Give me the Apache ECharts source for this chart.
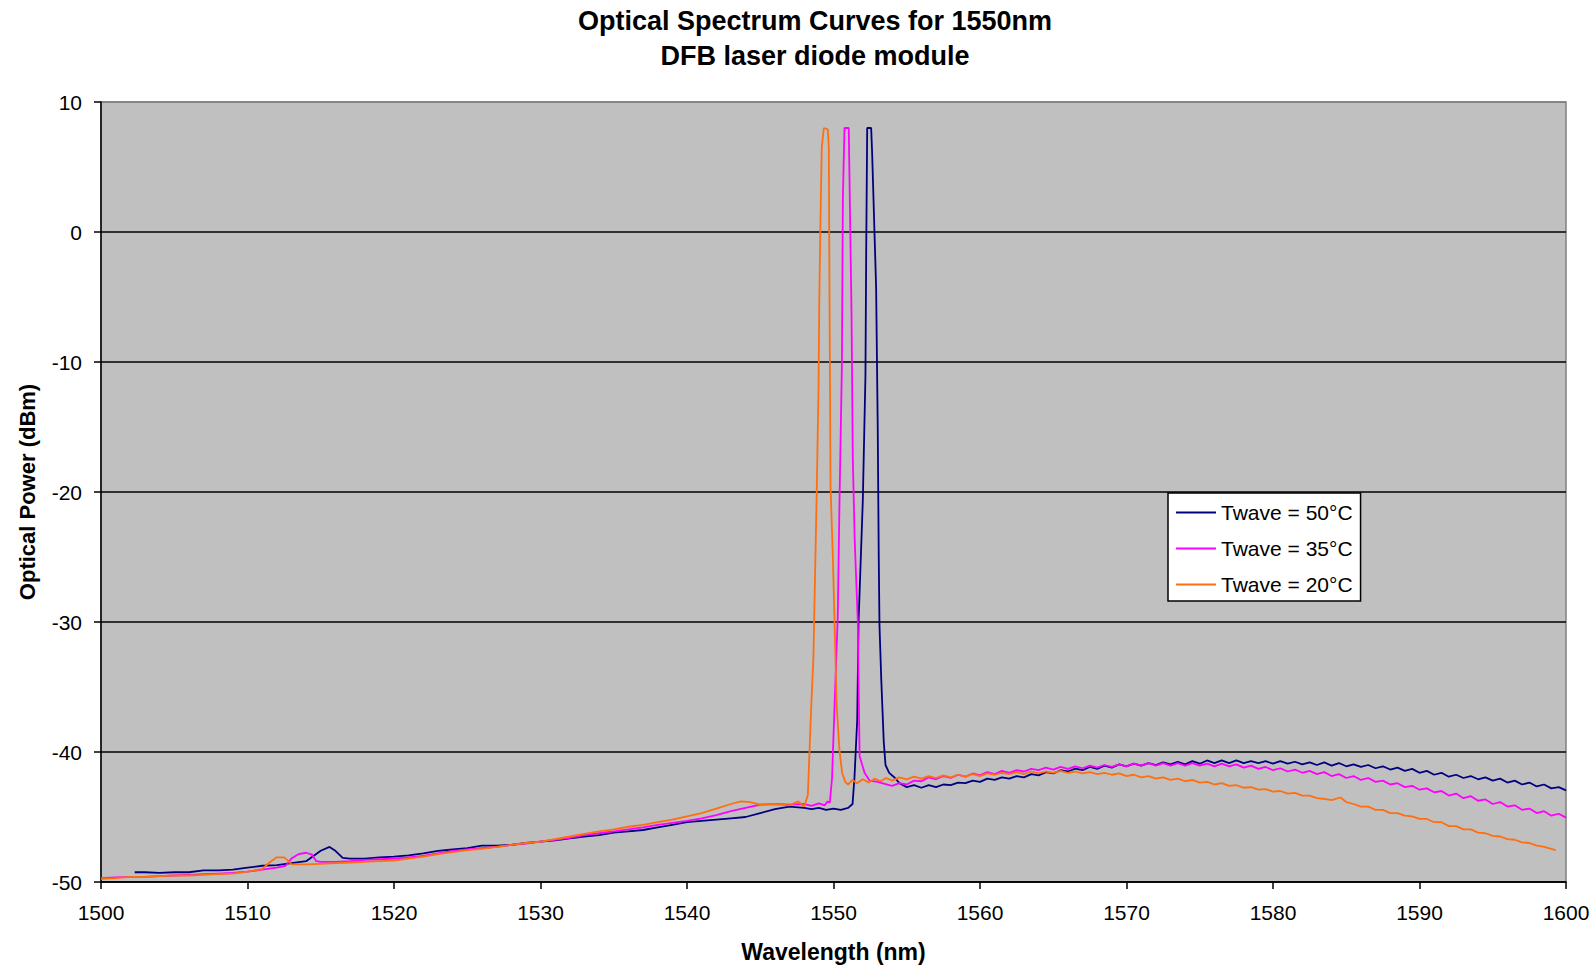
<!DOCTYPE html>
<html>
<head>
<meta charset="utf-8">
<script src="https://cdn.jsdelivr.net/npm/echarts@6/dist/echarts.min.js"></script>
<style>
html,body{margin:0;padding:0;background:#fff;}
#chart{width:1593px;height:968px;}
</style>
</head>
<body>
<div id="chart"></div>
<script>
const titleLines = ['Optical Spectrum Curves for 1550nm', 'DFB laser diode module'];
const xAxisName = 'Wavelength (nm)';
const yAxisName = 'Optical Power (dBm)';
const seriesNames = ['Twave = 50\u00B0C', 'Twave = 35\u00B0C', 'Twave = 20\u00B0C'];
const seriesColors = ['#000080', '#ff00ff', '#ff6f0f'];

// Twave = 50°C  [wavelength nm, power dBm]
const curve50 = [[1502.3,-49.25],[1503,-49.25],[1504,-49.3],[1505,-49.25],[1506,-49.25],[1507,-49.1],[1508,-49.1],[1509,-49.05],[1510,-48.9],[1511,-48.75],[1512,-48.7],[1513,-48.55],[1514,-48.4],[1514.5,-48.0],[1515,-47.6],[1515.6,-47.3],[1516,-47.6],[1516.5,-48.15],[1517,-48.2],[1518,-48.2],[1519,-48.1],[1520,-48.05],[1521,-47.95],[1522,-47.8],[1523,-47.6],[1524,-47.5],[1525,-47.4],[1526,-47.2],[1527,-47.2],[1528,-47.15],[1529,-47.0],[1530,-46.9],[1531,-46.8],[1532,-46.65],[1533,-46.5],[1534,-46.4],[1535,-46.2],[1536,-46.1],[1537,-46.0],[1538,-45.8],[1539,-45.6],[1540,-45.4],[1541,-45.3],[1542,-45.2],[1543,-45.1],[1544,-45.0],[1545,-44.7],[1546,-44.4],[1547,-44.2],[1548,-44.3],[1548.5,-44.4],[1549,-44.3],[1549.5,-44.45],[1550,-44.35],[1550.5,-44.45],[1551,-44.3],[1551.3,-44.0],[1551.43,-42.0],[1551.62,-37.5],[1551.71,-30.0],[1552.0,-20.7],[1552.18,-11.1],[1552.23,-1.9],[1552.3,8.0],[1552.57,8.0],[1552.64,6.0],[1552.91,-4.3],[1553.02,-15.1],[1553.09,-25.2],[1553.14,-30.3],[1553.26,-34.4],[1553.43,-39.2],[1553.55,-41.0],[1553.8,-41.6],[1554.2,-42.0],[1554.5,-42.4],[1555,-42.7],[1555.5,-42.55],[1556,-42.75],[1556.5,-42.55],[1557,-42.7],[1557.5,-42.5],[1558,-42.55],[1558.5,-42.35],[1559,-42.4],[1559.5,-42.2],[1560,-42.3],[1560.5,-42.05],[1561,-42.15],[1561.5,-41.95],[1562,-42.05],[1562.5,-41.85],[1563,-41.95],[1563.5,-41.7],[1564,-41.8],[1564.5,-41.55],[1565,-41.65],[1565.5,-41.4],[1566,-41.5],[1566.5,-41.28],[1567,-41.4],[1567.5,-41.15],[1568,-41.3],[1568.5,-41.05],[1569,-41.2],[1569.5,-40.95],[1570,-41.1],[1570.5,-40.9],[1571,-41.05],[1571.5,-40.85],[1572,-41.0],[1572.5,-40.8],[1573,-40.95],[1573.5,-40.75],[1574,-40.95],[1574.5,-40.7],[1575,-40.9],[1575.5,-40.65],[1576,-40.85],[1576.5,-40.65],[1577,-40.85],[1577.5,-40.65],[1578,-40.85],[1578.5,-40.7],[1579,-40.85],[1579.5,-40.7],[1580,-40.9],[1580.5,-40.7],[1581,-40.9],[1581.5,-40.75],[1582,-40.95],[1582.5,-40.8],[1583,-41.0],[1583.5,-40.8],[1584,-41.05],[1584.5,-40.85],[1585,-41.1],[1585.5,-40.95],[1586,-41.15],[1586.5,-41.0],[1587,-41.25],[1587.5,-41.1],[1588,-41.35],[1588.5,-41.2],[1589,-41.45],[1589.5,-41.3],[1590,-41.6],[1590.5,-41.45],[1591,-41.75],[1591.5,-41.6],[1592,-41.9],[1592.5,-41.75],[1593,-42.0],[1593.5,-41.85],[1594,-42.1],[1594.5,-41.95],[1595,-42.2],[1595.5,-42.05],[1596,-42.35],[1596.5,-42.2],[1597,-42.5],[1597.5,-42.35],[1598,-42.65],[1598.5,-42.5],[1599,-42.8],[1599.5,-42.7],[1600,-42.95]];

// Twave = 35°C
const curve35 = [[1500,-49.7],[1501,-49.65],[1502,-49.6],[1503,-49.6],[1504,-49.55],[1505,-49.5],[1506,-49.45],[1507,-49.4],[1508,-49.35],[1509,-49.3],[1510,-49.2],[1511,-49.05],[1512,-48.9],[1512.6,-48.75],[1513,-48.2],[1513.5,-47.85],[1514,-47.75],[1514.4,-47.9],[1514.7,-48.4],[1515,-48.45],[1516,-48.45],[1517,-48.4],[1518,-48.3],[1519,-48.25],[1520,-48.2],[1521,-48.1],[1522,-48.0],[1523,-47.8],[1524,-47.6],[1525,-47.5],[1526,-47.4],[1527,-47.3],[1528,-47.15],[1529,-47.05],[1530,-46.9],[1531,-46.75],[1532,-46.6],[1533,-46.4],[1534,-46.25],[1535,-46.1],[1536,-45.95],[1537,-45.8],[1538,-45.6],[1539,-45.45],[1540,-45.3],[1541,-45.1],[1542,-44.85],[1543,-44.55],[1544,-44.3],[1545,-44.05],[1546,-44.0],[1547,-44.05],[1548,-44.0],[1548.5,-44.15],[1549,-43.95],[1549.4,-44.1],[1549.6,-43.8],[1549.75,-43.9],[1549.9,-42.0],[1550.07,-36.5],[1550.29,-29.6],[1550.41,-20.7],[1550.57,-10.45],[1550.64,2.6],[1550.75,8.0],[1551.04,8.0],[1551.09,4.3],[1551.23,-6.3],[1551.32,-17.6],[1551.45,-23.8],[1551.66,-30.0],[1551.78,-40.3],[1552.12,-41.6],[1552.46,-42.2],[1553,-42.3],[1553.5,-42.45],[1554,-42.6],[1554.5,-42.4],[1555,-42.5],[1555.5,-42.2],[1556,-42.25],[1556.5,-41.95],[1557,-42.1],[1557.5,-41.85],[1558,-42.0],[1558.5,-41.75],[1559,-41.9],[1559.5,-41.65],[1560,-41.8],[1560.5,-41.55],[1561,-41.7],[1561.5,-41.45],[1562,-41.6],[1562.5,-41.4],[1563,-41.5],[1563.5,-41.3],[1564,-41.4],[1564.5,-41.2],[1565,-41.35],[1565.5,-41.15],[1566,-41.3],[1566.5,-41.1],[1567,-41.25],[1567.5,-41.05],[1568,-41.2],[1568.5,-41.0],[1569,-41.15],[1569.5,-40.95],[1570,-41.1],[1570.5,-40.9],[1571,-41.05],[1571.5,-40.85],[1572,-41.05],[1572.5,-40.85],[1573,-41.05],[1573.5,-40.85],[1574,-41.05],[1574.5,-40.85],[1575,-41.05],[1575.5,-40.9],[1576,-41.1],[1576.5,-40.9],[1577,-41.1],[1577.5,-40.95],[1578,-41.2],[1578.5,-41.05],[1579,-41.3],[1579.5,-41.15],[1580,-41.4],[1580.5,-41.25],[1581,-41.5],[1581.5,-41.35],[1582,-41.6],[1582.5,-41.45],[1583,-41.7],[1583.5,-41.55],[1584,-41.85],[1584.5,-41.7],[1585,-42.0],[1585.5,-41.85],[1586,-42.15],[1586.5,-42.0],[1587,-42.3],[1587.5,-42.2],[1588,-42.5],[1588.5,-42.4],[1589,-42.7],[1589.5,-42.6],[1590,-42.9],[1590.5,-42.8],[1591,-43.1],[1591.5,-43.0],[1592,-43.35],[1592.5,-43.2],[1593,-43.55],[1593.5,-43.4],[1594,-43.75],[1594.5,-43.65],[1595,-44.0],[1595.5,-43.85],[1596,-44.2],[1596.5,-44.1],[1597,-44.45],[1597.5,-44.35],[1598,-44.7],[1598.5,-44.55],[1599,-44.9],[1599.5,-44.75],[1600,-45.05]];

// Twave = 20°C
const curve20 = [[1500,-49.75],[1501,-49.7],[1502,-49.6],[1503,-49.6],[1504,-49.55],[1505,-49.5],[1506,-49.5],[1507,-49.45],[1508,-49.4],[1509,-49.35],[1510,-49.2],[1511,-49.0],[1511.5,-48.5],[1512,-48.1],[1512.5,-48.1],[1512.8,-48.4],[1513,-48.65],[1514,-48.65],[1515,-48.6],[1516,-48.55],[1517,-48.5],[1518,-48.45],[1519,-48.4],[1520,-48.35],[1521,-48.2],[1522,-48.05],[1523,-47.85],[1524,-47.7],[1525,-47.55],[1526,-47.45],[1527,-47.3],[1528,-47.15],[1529,-47.0],[1530,-46.9],[1531,-46.7],[1532,-46.5],[1533,-46.3],[1534,-46.1],[1535,-45.95],[1536,-45.75],[1537,-45.6],[1538,-45.4],[1539,-45.2],[1540,-44.95],[1541,-44.7],[1542,-44.35],[1543,-44.0],[1543.7,-43.8],[1544.3,-43.85],[1545,-44.05],[1546,-44.0],[1547,-44.1],[1547.6,-43.8],[1548,-44.2],[1548.25,-43.3],[1548.48,-36.5],[1548.63,-32.7],[1548.86,-19.7],[1548.98,-11.8],[1549.03,-5.3],[1549.11,0.85],[1549.2,6.5],[1549.34,8.0],[1549.61,7.9],[1549.68,6.5],[1549.73,-5.3],[1549.8,-19.7],[1549.95,-24.8],[1550.22,-36.5],[1550.41,-39.9],[1550.59,-41.6],[1550.8,-42.3],[1551,-42.5],[1551.3,-42.15],[1551.6,-42.4],[1552,-42.1],[1552.4,-42.35],[1552.8,-42.05],[1553.2,-42.25],[1553.6,-42.0],[1554,-42.2],[1554.5,-41.95],[1555,-42.1],[1555.5,-41.9],[1556,-42.05],[1556.5,-41.85],[1557,-42.0],[1557.5,-41.8],[1558,-41.95],[1558.5,-41.75],[1559,-41.9],[1559.5,-41.7],[1560,-41.85],[1560.5,-41.65],[1561,-41.75],[1561.5,-41.6],[1562,-41.7],[1562.5,-41.55],[1563,-41.7],[1563.5,-41.5],[1564,-41.65],[1564.5,-41.5],[1565,-41.6],[1565.5,-41.45],[1566,-41.6],[1566.5,-41.5],[1567,-41.65],[1567.5,-41.55],[1568,-41.7],[1568.5,-41.6],[1569,-41.75],[1569.5,-41.65],[1570,-41.85],[1570.5,-41.75],[1571,-41.95],[1571.5,-41.85],[1572,-42.05],[1572.5,-41.95],[1573,-42.15],[1573.5,-42.05],[1574,-42.25],[1574.5,-42.15],[1575,-42.35],[1575.5,-42.3],[1576,-42.5],[1576.5,-42.4],[1577,-42.6],[1577.5,-42.55],[1578,-42.75],[1578.5,-42.7],[1579,-42.9],[1579.5,-42.85],[1580,-43.05],[1580.5,-43.0],[1581,-43.2],[1581.5,-43.15],[1582,-43.35],[1582.5,-43.35],[1583,-43.55],[1583.5,-43.6],[1584,-43.7],[1584.6,-43.5],[1585,-43.85],[1585.5,-44.0],[1586,-44.2],[1586.5,-44.2],[1587,-44.45],[1587.5,-44.45],[1588,-44.7],[1588.5,-44.7],[1589,-44.9],[1589.5,-44.95],[1590,-45.15],[1590.5,-45.15],[1591,-45.4],[1591.5,-45.4],[1592,-45.7],[1592.5,-45.7],[1593,-45.95],[1593.5,-45.95],[1594,-46.2],[1594.5,-46.25],[1595,-46.45],[1595.5,-46.5],[1596,-46.7],[1596.5,-46.75],[1597,-46.95],[1597.5,-47.0],[1598,-47.2],[1598.5,-47.3],[1599,-47.45],[1599.3,-47.55]];

const curves = [curve50, curve35, curve20];
const xMin = 1500, xMax = 1600, xStep = 10;
const yMin = -50, yMax = 10, yStep = 10;

const FONT = '"Liberation Sans", Arial, sans-serif';
const chart = echarts.init(document.getElementById('chart'), null, {renderer: 'svg'});

chart.setOption({
  backgroundColor: '#ffffff',
  animation: false,
  graphic: [
    {type: 'text', x: 815, y: 3, style: {text: titleLines.join('\n'), x: 0, y: 0, textAlign: 'center', font: 'bold 27px ' + FONT, lineHeight: 35.5, fill: '#000'}}
  ],
  grid: {
    left: 101, right: 27, top: 102, bottom: 85,
    show: true, backgroundColor: '#c0c0c0', borderColor: '#808080', borderWidth: 1.5
  },
  legend: {
    data: seriesNames,
    orient: 'vertical',
    left: 1168, top: 493,
    padding: [9, 8, 6, 8],
    itemGap: 15,
    itemWidth: 40, itemHeight: 2,
    icon: 'rect',
    backgroundColor: '#ffffff', borderColor: '#000000', borderWidth: 1.5,
    selectedMode: false,
    textStyle: {fontFamily: FONT, fontSize: 21, lineHeight: 21, color: '#000'}
  },
  xAxis: {
    type: 'value', min: xMin, max: xMax, interval: xStep,
    name: xAxisName, nameLocation: 'middle', nameGap: 58,
    nameTextStyle: {fontFamily: FONT, fontSize: 23, fontWeight: 'bold', color: '#000'},
    axisLine: {show: true, onZero: false, lineStyle: {color: '#000', width: 1.5}},
    axisTick: {show: true, inside: false, length: 7, lineStyle: {color: '#000', width: 1.5}},
    axisLabel: {fontFamily: FONT, fontSize: 21, color: '#000', margin: 20, formatter: v => String(v)},
    splitLine: {show: false}
  },
  yAxis: {
    type: 'value', min: yMin, max: yMax, interval: yStep,
    name: yAxisName, nameLocation: 'middle', nameGap: 63, nameRotate: 90,
    nameTextStyle: {fontFamily: FONT, fontSize: 22, fontWeight: 'bold', color: '#000'},
    axisLine: {show: true, onZero: false, lineStyle: {color: '#000', width: 1.5}},
    axisTick: {show: true, inside: false, length: 7, lineStyle: {color: '#000', width: 1.5}},
    axisLabel: {fontFamily: FONT, fontSize: 21, color: '#000', margin: 19, formatter: v => String(v)},
    splitLine: {show: true, lineStyle: {color: ['#000','#000','#000','#000','#000','#000','#808080'], width: 1.5}}
  },
  series: curves.map((c, i) => ({
    name: seriesNames[i],
    type: 'line',
    data: c,
    showSymbol: false,
    symbol: 'none',
    smooth: false,
    color: seriesColors[i],
    lineStyle: {color: seriesColors[i], width: 1.8},
    z: 2 + i
  }))
});
</script>
</body>
</html>
